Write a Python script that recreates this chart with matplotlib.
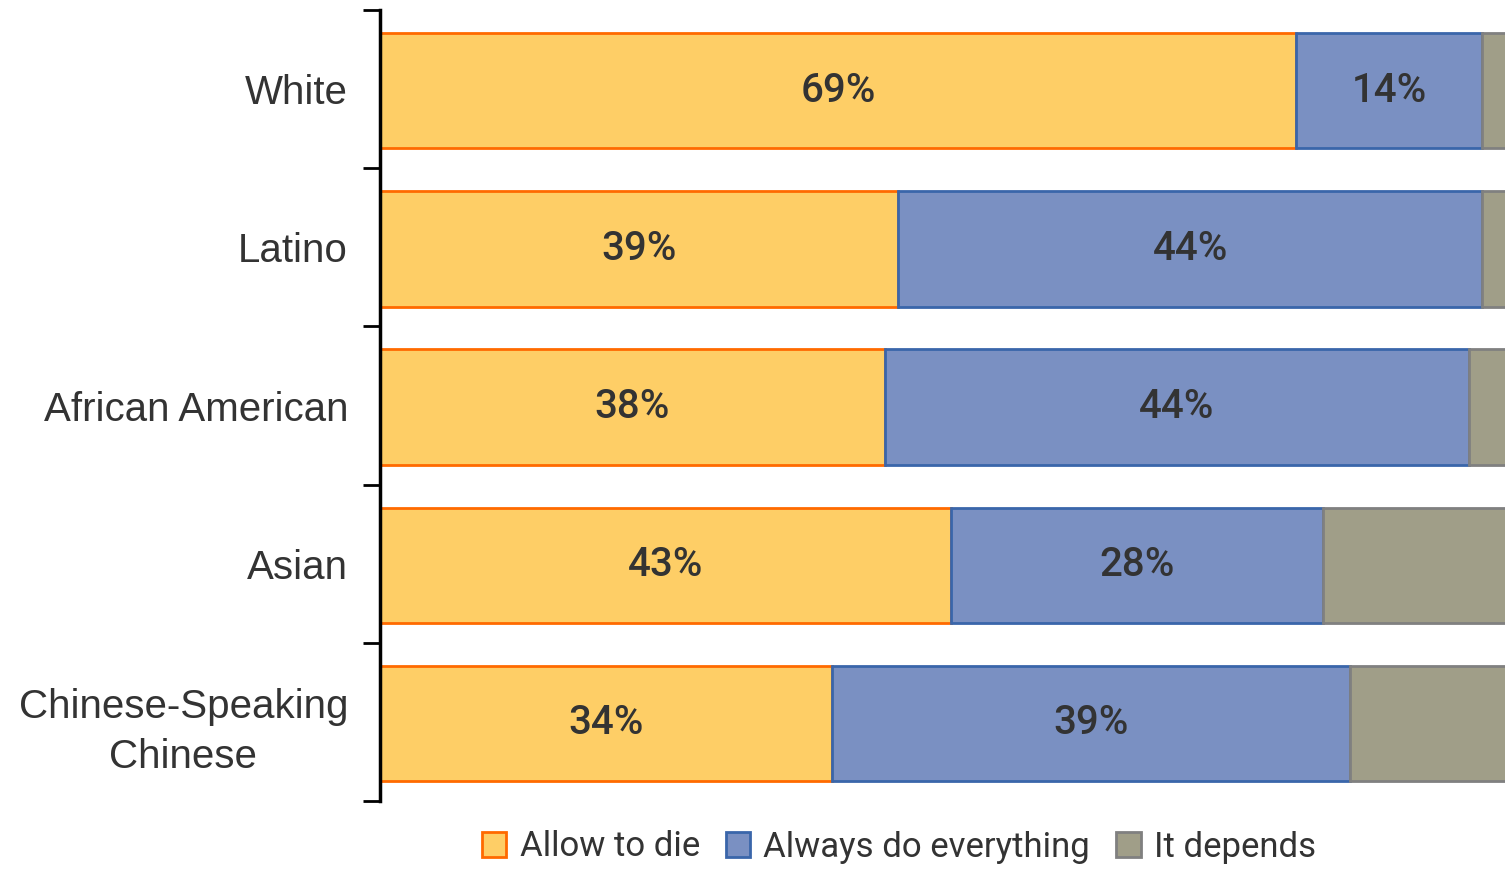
import numpy as np
import matplotlib
matplotlib.use('Agg')
import matplotlib.pyplot as plt

groups = ['White', 'Latino', 'African American', 'Asian', 'Chinese-Speaking\nChinese']
allow_to_die = [69, 39, 38, 43, 34]
always_do = [14, 44, 44, 28, 39]
it_depends = [17, 17, 18, 29, 27]

series = ['Allow to die', 'Always do everything', 'It depends']
faces = ['#FECE66', '#7A90C2', '#A09E88']
edges = ['#FF6A00', '#3A66AA', '#808080']

narrow = ['Roboto', 'DejaVu Sans']
text_col = '#333333'

fig = plt.figure(figsize=(15.05, 8.69), dpi=100)
ax = fig.add_axes([380 / 1505, 1 - 801 / 869, 1 - 380 / 1505, (801 - 10) / 869])

y = np.arange(len(groups))
left = np.zeros(len(groups))
for vals, name, fc, ec in zip([allow_to_die, always_do, it_depends], series, faces, edges):
    vals = np.array(vals, dtype=float)
    ax.barh(y + 0.01, vals, left=left, height=0.73, color=fc, edgecolor=ec,
            linewidth=2, label=name)
    if name != 'It depends':
        for yi, l, v in zip(y, left, vals):
            ax.text(l + v / 2, yi + 0.01, f'{int(v)}%', ha='center', va='center',
                    fontsize=29, fontweight='medium', color=text_col, family=narrow)
    left += vals

ax.set_xlim(0, 84.7)
ax.set_ylim(4.5, -0.5)
ax.set_xticks([])
ax.set_yticks(y)
ax.set_yticklabels(groups, fontsize=29, color=text_col, family='Liberation Sans',
                   multialignment='center', linespacing=1.4)
ax.tick_params(axis='y', which='major', length=0, pad=23)
ax.set_yticks(np.arange(-0.5, 5, 1), minor=True)
ax.tick_params(axis='y', which='minor', length=12, width=2, direction='out')

for s in ['top', 'right', 'bottom']:
    ax.spines[s].set_visible(False)
ax.spines['left'].set_linewidth(2.5)

leg = fig.legend(loc='center', bbox_to_anchor=(899 / 1505, 1 - 847 / 869), ncol=3,
                 frameon=False, handlelength=0.7, handleheight=0.7,
                 handletextpad=0.38, columnspacing=0.75,
                 prop={'family': narrow, 'size': 25})
for t in leg.get_texts():
    t.set_color(text_col)

fig.savefig('out.png', dpi=100)
